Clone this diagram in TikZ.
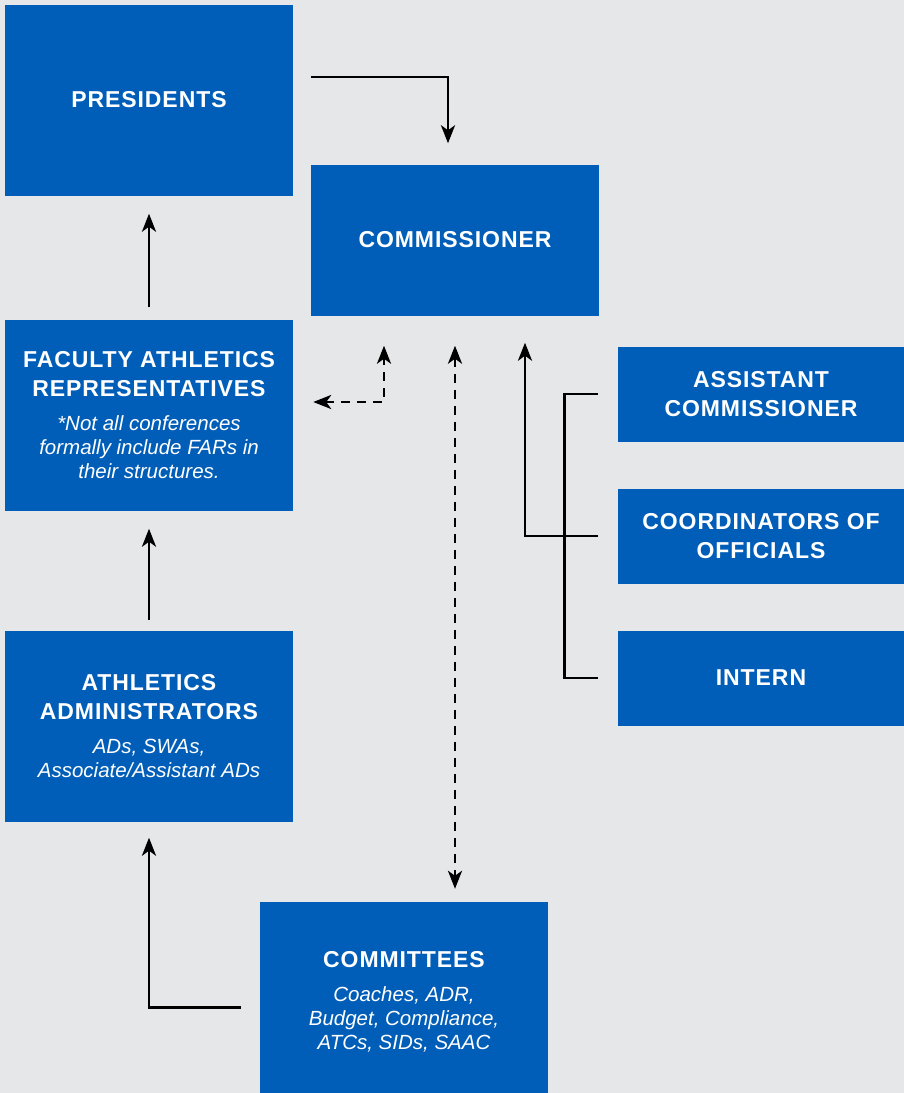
\documentclass[tikz,border=0pt]{standalone}
\usepackage{fontspec}
\setmainfont{Liberation Sans}
\usetikzlibrary{arrows.meta}
\definecolor{confblue}{RGB}{0,94,184}
\definecolor{confgray}{RGB}{230,231,232}
\newcommand{\boxnote}[1]{\par\vspace{10pt}{\normalfont\itshape\fontsize{20.5}{24}\selectfont #1\par}}
\newcommand{\titlefont}{\bfseries\fontsize{23}{29}\selectfont\addfontfeatures{LetterSpace=4}}

\begin{document}
\begin{tikzpicture}[x=1pt,y=-1pt]
    % Define styles
    \tikzstyle{office} = [rectangle, fill=confblue, text=white, inner xsep=0pt, minimum width=288, minimum height=191, text width=284, align=flush center, font=\titlefont]
    \tikzstyle{staff} = [rectangle, fill=confblue, text=white, inner xsep=0pt, minimum width=286, minimum height=95, text width=284, align=flush center, font=\titlefont]
    \tikzstyle{arrow} = [line width=2.8pt,->,>={Stealth[length=18pt,width=14pt,inset=5pt]}]
    \tikzstyle{dasharrow} = [arrow, dash pattern=on 9pt off 7pt]
    \tikzstyle{link} = [line width=2.8pt]

    % Background
    \fill[confgray] (0,0) rectangle (904,1093);
    \useasboundingbox (0,0) rectangle (904,1093);

    % Left column
    \node (presidents) [office] at (149,100) {PRESIDENTS};
    \node (far) [office] at (149,415) {FACULTY ATHLETICS\\REPRESENTATIVES\boxnote{*Not all conferences\\formally include FARs in\\their structures.}};
    \node (admins) [office] at (149,726) {ATHLETICS\\ADMINISTRATORS\boxnote{ADs, SWAs,\\Associate/Assistant ADs}};

    % Middle
    \node (commissioner) [office, minimum height=151] at (455,240) {COMMISSIONER};
    \node (committees) [office, minimum height=199] at (404,1001.5) {COMMITTEES\boxnote{Coaches, ADR,\\Budget, Compliance,\\ATCs, SIDs, SAAC}};

    % Staff
    \node (assistant) [staff] at (761,394) {ASSISTANT\\COMMISSIONER};
    \node (coordinators) [staff] at (761,536) {COORDINATORS OF\\OFFICIALS};
    \node (intern) [staff] at (761,678) {INTERN};

    % Reporting lines
    \draw [arrow, shorten <=18pt, shorten >=21pt] ([yshift=23]presidents.east) -| ([xshift=-7]commissioner.north);
    \draw [arrow, shorten <=12pt, shorten >=18pt] (far.north) -- (presidents.south);
    \draw [arrow, shorten <=10pt, shorten >=18pt] (admins.north) -- (far.south);
    \draw [arrow, shorten <=19pt, shorten >=16pt] ([yshift=-6]committees.west) -| (admins.south);
    \draw [arrow, shorten <=20pt, shorten >=27pt] (coordinators.west) -| ([xshift=70]commissioner.south);
    \draw [link, shorten <=20pt, shorten >=20pt] (assistant.west) -| ([xshift=-53]coordinators.west) |- (intern.west);

    % Dotted relations
    \draw [dasharrow, <->, shorten <=20pt, shorten >=30pt] ([yshift=13]far.east) -| ([xshift=-71]commissioner.south);
    \draw [dasharrow, <->, shorten <=30pt, shorten >=13pt] (commissioner.south) -- (commissioner.south |- committees.north);
\end{tikzpicture}
\end{document}
